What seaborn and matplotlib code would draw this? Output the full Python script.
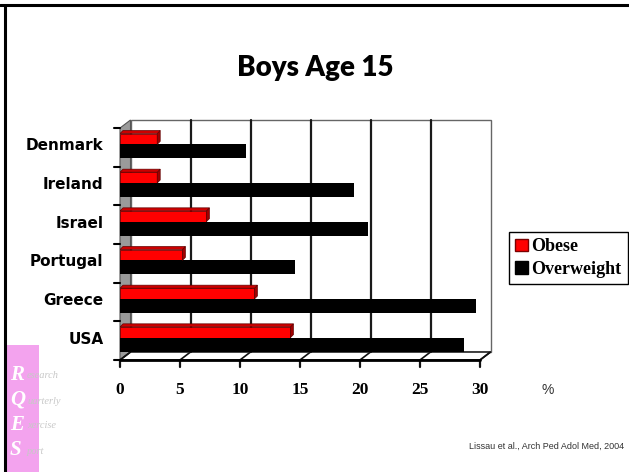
import matplotlib
matplotlib.use("Agg")
import matplotlib.pyplot as plt
import seaborn as sns
import pandas as pd
from matplotlib.patches import Polygon, Patch, Rectangle

# Data (% of boys age 15)
countries = ["Denmark", "Ireland", "Israel", "Portugal", "Greece", "USA"]
obese = [3.1, 3.1, 7.2, 5.2, 11.2, 14.2]
overweight = [10.5, 19.5, 20.7, 14.6, 29.7, 28.7]
series = ["Obese", "Overweight"]
xticks = [0, 5, 10, 15, 20, 25, 30]
colors = ["#ff0000", "#000000"]

df = pd.DataFrame({
    "country": countries * 2,
    "value": obese + overweight,
    "series": [series[0]] * len(countries) + [series[1]] * len(countries),
})

sns.set_style("white")
plt.rcParams.update({"text.color": "black", "xtick.color": "black",
                     "ytick.color": "black"})
W, H = 629, 472
fig = plt.figure(figsize=(W / 100, H / 100), dpi=100)

# decoration layer in pixel coordinates (origin bottom-left)
deco = fig.add_axes([0, 0, 1, 1], zorder=0)
deco.set_xlim(0, W)
deco.set_ylim(0, H)
deco.axis("off")

ax = fig.add_axes([120 / W, 1 - 357 / H, 360 / W, 232 / H], zorder=2)
ax.patch.set_alpha(0)

sns.barplot(data=df, y="country", x="value", hue="series", orient="h",
            palette=colors, width=0.62, ax=ax, legend=False, saturation=1,
            linewidth=0)
ax.set_xlim(0, 30)
ax.set_ylim(len(countries) - 0.5, -0.5)
for s in ax.spines.values():
    s.set_visible(False)
ax.set_xlabel("")
ax.set_ylabel("")
ax.set_xticks(xticks)
ax.set_xticklabels([str(t) for t in xticks], fontfamily="Liberation Serif",
                   fontweight="bold", fontsize=12.5)
ax.tick_params(axis="x", length=0, pad=18)
ax.tick_params(axis="y", length=0, pad=12)
for lab in ax.get_yticklabels():
    lab.set_fontfamily("DejaVu Sans")
    lab.set_fontweight("bold")
    lab.set_fontsize(11)

# red bars a bit thinner, black bars a bit thicker (as on the slide)
n = len(countries)
for p in ax.patches[:n]:
    bottom = p.get_y() + p.get_height()
    p.set_height(0.28)
    p.set_y(bottom - 0.28)
for p in ax.patches[n:2 * n]:
    p.set_height(0.36)

fig.canvas.draw()


def px(x, y, dx=0, dy=0):
    X, Y = ax.transData.transform((x, y))
    return (X + dx, Y + dy)


BACK = (10.5, 5)   # back wall offset in pixels
FRONT = (0, -3)    # front plane offset
ytop, ybot = -0.5, n - 0.5
x0, x1 = xticks[0], xticks[-1]

# back wall
deco.add_patch(Polygon([px(x0, ytop, *BACK), px(x1, ytop, *BACK),
                        px(x1, ybot, *BACK), px(x0, ybot, *BACK)],
                       closed=True, facecolor="white", edgecolor="#666666", lw=1))
for t in xticks[1:-1]:
    a, b = px(t, ytop, *BACK), px(t, ybot, *BACK)
    deco.plot([a[0], b[0]], [a[1], b[1]], color="#1a1a1a", lw=1.6)

# left wall
deco.add_patch(Polygon([px(x0, ytop, *FRONT), px(x0, ytop, *BACK),
                        px(x0, ybot, *BACK), px(x0, ybot, *FRONT)],
                       closed=True, facecolor="#9a9a9a", edgecolor="#555555", lw=0.8))

# floor
deco.add_patch(Polygon([px(x0, ybot, *FRONT), px(x1, ybot, *FRONT),
                        px(x1, ybot, *BACK), px(x0, ybot, *BACK)],
                       closed=True, facecolor="white", edgecolor="#222222", lw=1.2))
for t in xticks:
    a, b = px(t, ybot, *FRONT), px(t, ybot, *BACK)
    deco.plot([a[0], b[0]], [a[1], b[1]], color="#111111", lw=1.2)
    deco.plot([a[0], a[0]], [a[1], a[1] - 7], color="#111111", lw=1.6)
a, b = px(x0, ybot, *FRONT), px(x1, ybot, *FRONT)
deco.plot([a[0], b[0]], [a[1], b[1]], color="black", lw=2)

# y tick marks on the left wall front edge
for k in range(n + 1):
    a = px(x0, k - 0.5, *FRONT)
    deco.plot([a[0] - 6, a[0]], [a[1], a[1]], color="black", lw=1.5)

# 3d caps on the red bars
for p in ax.patches[:n]:
    bx, by, bw, bh = p.get_x(), p.get_y(), p.get_width(), p.get_height()
    p.set_edgecolor("#7a0000")
    p.set_linewidth(0.6)
    d = 3
    r0 = px(bx + bw, by)
    r1 = px(bx + bw, by + bh)
    l0 = px(bx, by)
    ax.add_patch(Polygon([r0, (r0[0] + d, r0[1] + d), (r1[0] + d, r1[1] + d), r1],
                         closed=True, facecolor="#a00000", edgecolor="#600000",
                         lw=0.5, transform=None, zorder=1))
    ax.add_patch(Polygon([l0, (l0[0] + d, l0[1] + d), (r0[0] + d, r0[1] + d), r0],
                         closed=True, facecolor="#cc0000", edgecolor="#600000",
                         lw=0.5, transform=None, zorder=1))

# title, unit, citation
fig.text(315 / W, 1 - 68 / H, "Boys Age 15", ha="center", va="center",
         fontfamily="Lato", fontweight="heavy", fontsize=20)
fig.text(548 / W, 1 - 390 / H, "%", ha="center", va="center",
         fontfamily="Liberation Sans", fontsize=10, color="#333333")
fig.text(624 / W, 1 - 446 / H, "Lissau et al., Arch Ped Adol Med, 2004",
         ha="right", va="center", fontfamily="Liberation Sans", fontsize=6.5,
         color="#333333")

# legend, cut by the right edge like on the slide
handles = [Patch(facecolor=colors[0], edgecolor="#7a0000"),
           Patch(facecolor=colors[1], edgecolor="black")]
leg = fig.legend(handles, series, loc="upper left",
                 bbox_to_anchor=(509 / W, 1 - 232 / H), frameon=True,
                 fancybox=False, edgecolor="black", framealpha=1,
                 prop={"family": "Liberation Serif", "weight": "bold", "size": 13},
                 handlelength=0.7, handleheight=0.7, handletextpad=0.2,
                 borderpad=0.35, labelspacing=0.3, borderaxespad=0)
leg.get_frame().set_linewidth(1)

# slide frame
deco.plot([0, W], [H - 5, H - 5], color="black", lw=2.2)
deco.plot([5, 5], [0, H - 5], color="black", lw=2.2)

# logo strip
deco.add_patch(Rectangle((7, 0), 32, H - 345, facecolor="#f3a3ee", edgecolor="none"))
for i, (big, rest) in enumerate([("R", "esearch"), ("Q", "uarterly"),
                                 ("E", "xercise"), ("S", "port")]):
    yy = H - 375 - i * 25
    deco.text(10, yy, big, color="white", fontfamily="Liberation Serif",
              fontstyle="italic", fontweight="bold", fontsize=15, va="center")
    deco.text(27, yy - 1, rest, color="#c8c8c8", fontfamily="Liberation Serif",
              fontstyle="italic", fontsize=7.5, va="center")

fig.savefig("out.png", dpi=100)
